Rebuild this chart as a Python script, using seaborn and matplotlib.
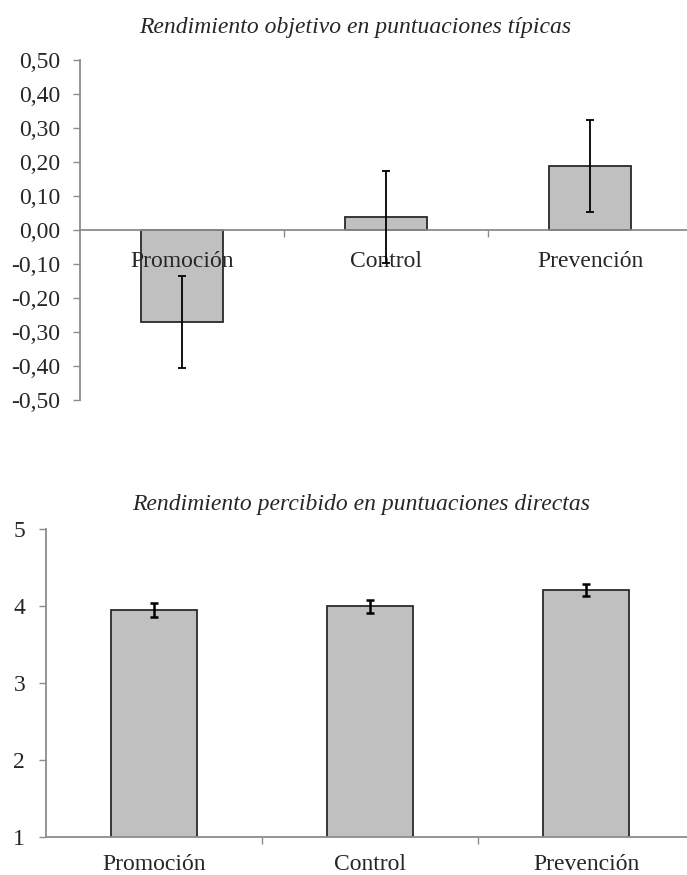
import numpy as np
import pandas as pd
import matplotlib
matplotlib.use("Agg")
import matplotlib.pyplot as plt
import seaborn as sns

# datos
grupos = ["Promoción", "Control", "Prevención"]
objetivo_media = [-0.27, 0.04, 0.19]
objetivo_error = [0.136, 0.135, 0.135]
percibido_media = [3.95, 4.00, 4.21]
percibido_error = [0.085, 0.085, 0.08]

obj_ticks = [-0.5, -0.4, -0.3, -0.2, -0.1, 0.0, 0.1, 0.2, 0.3, 0.4, 0.5]
perc_ticks = [1, 2, 3, 4, 5]

sns.set_theme(style="white")
plt.rcParams["font.family"] = ["Liberation Serif", "DejaVu Serif"]

GRIS_EJE = "#8c8c8c"
RELLENO = "#c0c0c0"
BORDE = "#2a2a2a"


def dibujar(ax, medias, errores, ticks, fmt, titulo, ylim, lw_err, eje_cero,
            titulo_x, titulo_y, pad_x, pad_y):
    df = pd.DataFrame({"grupo": grupos, "valor": medias})
    sns.barplot(data=df, x="grupo", y="valor", color=RELLENO, width=0.4,
                edgecolor=BORDE, linewidth=1.3, errorbar=None, saturation=1, ax=ax)
    for patch in ax.patches:
        patch.set_facecolor(RELLENO)
    ax.errorbar(np.arange(len(grupos)), medias, yerr=errores, fmt="none",
                ecolor="black", elinewidth=lw_err, capsize=3, capthick=lw_err, zorder=3)
    # etiquetas y eje por encima de las barras (como en Excel)
    ax.set_axisbelow(False)

    for lado in ["top", "right"]:
        ax.spines[lado].set_visible(False)
    for lado in ["left", "bottom"]:
        ax.spines[lado].set_color(GRIS_EJE)
        ax.spines[lado].set_linewidth(1.3)
    if eje_cero:
        ax.spines["bottom"].set_position(("data", 0))

    ax.set_xlim(-0.5, 2.5)
    ax.set_ylim(*ylim)
    ax.set_yticks(ticks)
    ax.set_yticklabels([fmt(t) for t in ticks], fontsize=17)
    ax.set_xticks(range(len(grupos)))
    ax.set_xticklabels(grupos, fontsize=17)
    ax.set_xticks([0.5, 1.5], minor=True)
    ax.tick_params(axis="x", which="major", length=0, pad=pad_x, bottom=True)
    ax.tick_params(axis="x", which="minor", length=5, width=1, color=GRIS_EJE,
                   direction="out", bottom=True)
    ax.tick_params(axis="y", length=5, width=1, color=GRIS_EJE, direction="out",
                   pad=pad_y, left=True)

    ax.set_xlabel("")
    ax.set_ylabel("")
    ax.set_title(titulo, fontsize=17, style="italic", pad=0, x=titulo_x, y=titulo_y,
                 va="baseline")
    ax.grid(False)


fig = plt.figure(figsize=(6.87, 8.75), dpi=100)

ax1 = fig.add_axes([80 / 687, 1 - 400.3 / 875, 612 / 687, (400.3 - 60.3) / 875])
dibujar(ax1, objetivo_media, objetivo_error, obj_ticks,
        lambda t: f"{t:.2f}".replace(".", ",").replace("-0,00", "0,00"),
        "Rendimiento objetivo en puntuaciones típicas", (-0.5, 0.5), 1.3, True,
        0.449, 1 + (60.3 - 33) / 340, 15, 9)

ax2 = fig.add_axes([46 / 687, 1 - 836.7 / 875, 648 / 687, (836.7 - 529.3) / 875])
dibujar(ax2, percibido_media, percibido_error, perc_ticks,
        lambda t: f"{t:d}",
        "Rendimiento percibido en puntuaciones directas", (1, 5), 1.8, False,
        0.4857, 1 + (529.3 - 510) / 307.4, 12.5, 10)

fig.savefig("out.png", dpi=100)
